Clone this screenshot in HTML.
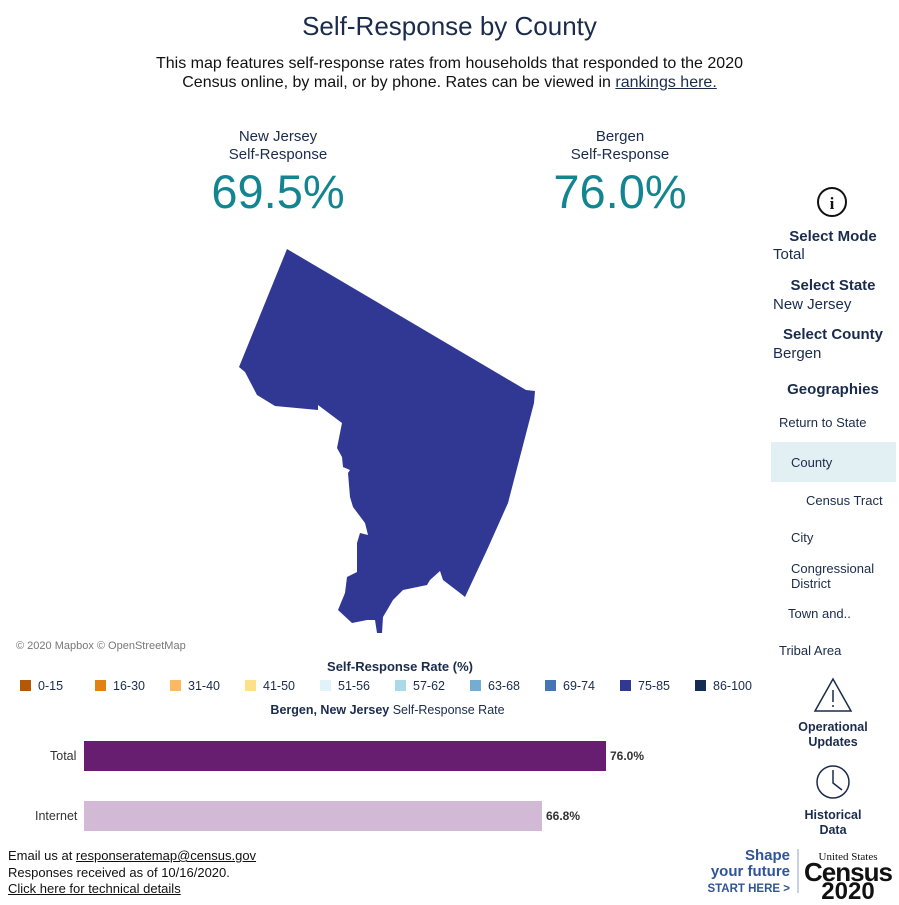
<!DOCTYPE html>
<html><head><meta charset="utf-8"><style>
body{margin:0;width:899px;height:899px;background:#fff;font-family:"Liberation Sans",sans-serif;color:#1a2b4c;position:relative;overflow:hidden}
.a{position:absolute}
.c{text-align:center}
.big{font-size:47px;color:#138591}
.sm{font-size:15px;color:#1a2b4c}
.lg{font-size:12.5px;color:#1a2b4c}
.sq{display:inline-block;width:11px;height:11px;vertical-align:-1px;margin-right:7px}
.nav{font-size:13px;color:#1a2b4c}
.hd{font-size:15px;font-weight:bold;color:#1a2b4c}
.v{font-size:15px;color:#1a2b4c}
</style></head><body>
<div class="a c" style="left:0;width:899px;top:11px;font-size:26px;color:#1a2b4c">Self-Response by County</div>
<div class="a c" style="left:0;width:899px;top:54px;font-size:16px;line-height:19px;color:#111">This map features self-response rates from households that responded to the 2020<br>Census online, by mail, or by phone. Rates can be viewed in <u style="color:#1a2b4c">rankings here.</u></div>
<div class="a c sm" style="left:178px;width:200px;top:128px;line-height:18px">New Jersey<br>Self-Response</div>
<div class="a c big" style="left:178px;width:200px;top:164px">69.5%</div>
<div class="a c sm" style="left:520px;width:200px;top:128px;line-height:18px">Bergen<br>Self-Response</div>
<div class="a c big" style="left:520px;width:200px;top:164px">76.0%</div>
<svg class="a" style="left:0;top:0" width="899" height="899">
<polygon fill="#313893" points="287,249 526,390 535,391 534,403 508,503 487,550 465,597 460,593 443,580 440,571 430,580 427,585 403,590 393,600 383,617 382,633 377,633 375,620 367,620 352,623 338,610 345,593 347,577 357,572 357,543 360,533 368,535 365,523 353,507 350,497 348,473 350,470 343,467 342,457 337,448 342,423 318,405 318,410 275,406 257,395 245,372 239,367"/>
<circle cx="832" cy="202" r="14" fill="none" stroke="#111" stroke-width="2"/>
<text x="832" y="209" font-family="Liberation Serif" font-weight="bold" font-size="17" text-anchor="middle" fill="#111">i</text>
<polygon points="833,679 815,711 851,711" fill="none" stroke="#1a2b4c" stroke-width="1.5"/>
<line x1="833" y1="690" x2="833" y2="702" stroke="#1a2b4c" stroke-width="1.5"/><circle cx="833" cy="706" r="1" fill="#1a2b4c"/>
<circle cx="833" cy="782" r="16" fill="none" stroke="#1a2b4c" stroke-width="1.5"/>
<polyline points="833,770 833,783 842,790" fill="none" stroke="#1a2b4c" stroke-width="1.5"/>
<line x1="798" y1="849" x2="798" y2="893" stroke="#8fa4c8" stroke-width="1"/>
</svg>
<div class="a" style="left:16px;top:640px;font-size:11px;color:#777">© 2020 Mapbox © OpenStreetMap</div>
<div class="a c" style="left:0;width:800px;top:659px;font-size:13px;font-weight:bold;color:#1a2b4c">Self-Response Rate (%)</div>
<div class="a lg" style="left:20px;top:679px;white-space:nowrap">
<span style="position:absolute;left:0"><span class="sq" style="background:#b35806"></span>0-15</span>
<span style="position:absolute;left:75px"><span class="sq" style="background:#e08214"></span>16-30</span>
<span style="position:absolute;left:150px"><span class="sq" style="background:#fdb863"></span>31-40</span>
<span style="position:absolute;left:225px"><span class="sq" style="background:#fee08b"></span>41-50</span>
<span style="position:absolute;left:300px"><span class="sq" style="background:#e0f3f8"></span>51-56</span>
<span style="position:absolute;left:375px"><span class="sq" style="background:#abd9e9"></span>57-62</span>
<span style="position:absolute;left:450px"><span class="sq" style="background:#74add1"></span>63-68</span>
<span style="position:absolute;left:525px"><span class="sq" style="background:#4575b4"></span>69-74</span>
<span style="position:absolute;left:600px"><span class="sq" style="background:#313893"></span>75-85</span>
<span style="position:absolute;left:675px"><span class="sq" style="background:#142b52"></span>86-100</span>
</div>
<div class="a c" style="left:0;width:775px;top:703px;font-size:12.5px;color:#1a2b4c"><b>Bergen, New Jersey</b> Self-Response Rate</div>
<div class="a" style="left:50px;top:749px;font-size:12.5px;color:#333">Total</div>
<div class="a" style="left:84px;top:741px;width:522px;height:30px;background:#681e70"></div>
<div class="a" style="left:610px;top:749px;font-size:12px;font-weight:bold;color:#333">76.0%</div>
<div class="a" style="left:35px;top:809px;font-size:12.5px;color:#333">Internet</div>
<div class="a" style="left:84px;top:801px;width:458px;height:30px;background:#d2b9d6"></div>
<div class="a" style="left:546px;top:809px;font-size:12px;font-weight:bold;color:#333">66.8%</div>
<div class="a" style="left:8px;top:848px;font-size:13px;line-height:16.5px;color:#111">Email us at <u>responseratemap@census.gov</u><br>Responses received as of 10/16/2020.<br><u>Click here for technical details</u></div>
<div class="a c hd" style="left:770px;width:126px;top:228px">Select Mode</div>
<div class="a v" style="left:773px;top:246px">Total</div>
<div class="a c hd" style="left:770px;width:126px;top:277px">Select State</div>
<div class="a v" style="left:773px;top:296px">New Jersey</div>
<div class="a c hd" style="left:770px;width:126px;top:326px">Select County</div>
<div class="a v" style="left:773px;top:345px">Bergen</div>
<div class="a c hd" style="left:770px;width:126px;top:381px">Geographies</div>
<div class="a nav" style="left:779px;top:415px">Return to State</div>
<div class="a" style="left:771px;top:442px;width:125px;height:40px;background:#e2f0f4"></div>
<div class="a nav" style="left:791px;top:455px">County</div>
<div class="a nav" style="left:806px;top:493px">Census Tract</div>
<div class="a nav" style="left:791px;top:530px">City</div>
<div class="a nav" style="left:791px;top:561px;line-height:15px">Congressional<br>District</div>
<div class="a nav" style="left:788px;top:606px">Town and..</div>
<div class="a nav" style="left:779px;top:643px">Tribal Area</div>
<div class="a c" style="left:770px;width:126px;top:720px;font-size:12.5px;font-weight:bold;line-height:15px">Operational<br>Updates</div>
<div class="a c" style="left:770px;width:126px;top:808px;font-size:12.5px;font-weight:bold;line-height:15px">Historical<br>Data</div>
<div class="a" style="left:700px;top:848px;width:90px;text-align:right;color:#2f5597;font-weight:bold;line-height:16px"><span style="font-size:15px">Shape</span><br><span style="font-size:15px">your future</span><br><span style="font-size:11.5px">START HERE &gt;</span></div>
<div class="a c" style="left:800px;width:96px;top:848px;color:#111;line-height:15px"><span style="font-family:'Liberation Serif';font-size:11px">United States</span><br><span style="font-size:26px;font-weight:bold;letter-spacing:-1px">Census</span><br><span style="font-size:24px;font-weight:bold">2020</span></div>
</body></html>
